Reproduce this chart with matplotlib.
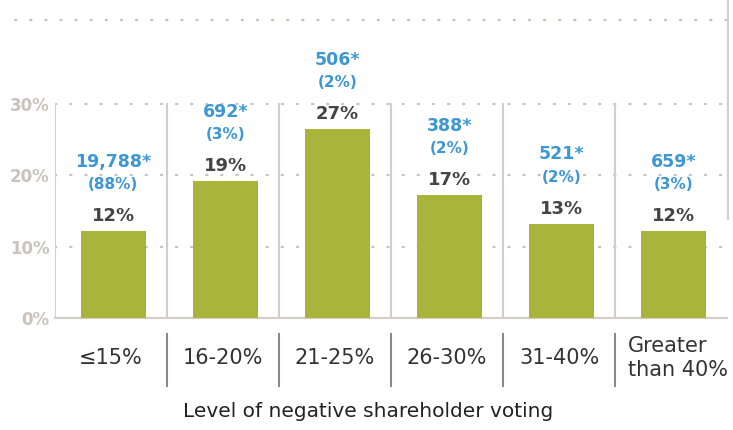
import matplotlib.pyplot as plt
import matplotlib.transforms as mtransforms

# data
categories = ["≤15%", "16-20%", "21-25%", "26-30%", "31-40%", "Greater\nthan 40%"]
share_pct = [12.2, 19.2, 26.5, 17.2, 13.2, 12.2]
share_labels = ["12%", "19%", "27%", "17%", "13%", "12%"]
counts = ["19,788*", "692*", "506*", "388*", "521*", "659*"]
count_pct = ["(88%)", "(3%)", "(2%)", "(2%)", "(2%)", "(3%)"]
yticks = [0, 10, 20, 30]

green = "#a9b43a"
blue = "#3d97d3"
dark = "#444444"
light = "#c9c3bc"
font = "DejaVu Sans"

fig = plt.figure(figsize=(7.33, 4.30), dpi=100)
ax = fig.add_axes([0.075, 0.2605, 0.917, 0.693])

x = list(range(len(categories)))
ax.bar([i + 0.02 for i in x], share_pct, width=0.58, color=green, zorder=3)

ax.set_xlim(-0.5, 5.5)
ax.set_ylim(0, 41.8)

dots = dict(color="#c8c3bc", lw=1.6, ls=(0, (0.6, 6.2)), dash_capstyle="round")

# dotted gridlines
for y in yticks[1:]:
    ax.axhline(y, zorder=1, **dots)
# top dotted line runs out past the axis on the left
fig.add_artist(plt.Line2D([0.02, 0.995], [0.9535, 0.9535], **dots))

# vertical separators inside the plot
for xs in [-0.5, 0.5, 1.5, 2.5, 3.5, 4.5]:
    ax.plot([xs, xs], [0, 30], color="#d3cec8", lw=1.5, zorder=2)

# separators under the axis
tr = mtransforms.blended_transform_factory(ax.transData, ax.transAxes)
for xs in [0.5, 1.5, 2.5, 3.5, 4.5]:
    ax.plot([xs, xs], [-0.054, -0.228], color="#8a8a8a", lw=1.5,
            transform=tr, clip_on=False)

for s in ["top", "right", "left"]:
    ax.spines[s].set_visible(False)
ax.spines["bottom"].set_color("#d3cec8")
ax.spines["bottom"].set_linewidth(1.5)

ax.set_yticks(yticks)
ax.set_yticklabels([f"{t}%" for t in yticks], fontsize=12, color=light,
                   fontweight="bold", family=font)
ax.tick_params(axis="y", length=0, pad=4)
ax.set_xticks([])

for i, cat in enumerate(categories):
    ax.text(i + (0.06 if "\n" in cat else 0), -0.134, cat, transform=tr,
            ha="center", va="center", ma="left", fontsize=15,
            color="#333333", family=font, linespacing=1.3)

# bar annotations
for i, v in enumerate(share_pct):
    xi = i + 0.02
    ax.annotate(share_labels[i], (xi, v), xytext=(0, 11), textcoords="offset points",
                ha="center", va="center", fontsize=13, fontweight="bold",
                color=dark, family=font)
    ax.annotate(count_pct[i], (xi, v), xytext=(0, 33.5), textcoords="offset points",
                ha="center", va="center", fontsize=11, fontweight="bold",
                color=blue, family=font)
    ax.annotate(counts[i], (xi, v), xytext=(0, 50), textcoords="offset points",
                ha="center", va="center", fontsize=12.5, fontweight="bold",
                color=blue, family=font)

fig.text(0.502, 0.042, "Level of negative shareholder voting", ha="center",
         va="center", fontsize=14.5, color="#222222", family=font)

# thin border line at the top right
fig.add_artist(plt.Line2D([0.9925, 0.9925], [1.0, 0.49], color="#d3cec8", lw=1.5))

fig.savefig("out.png", dpi=100)
